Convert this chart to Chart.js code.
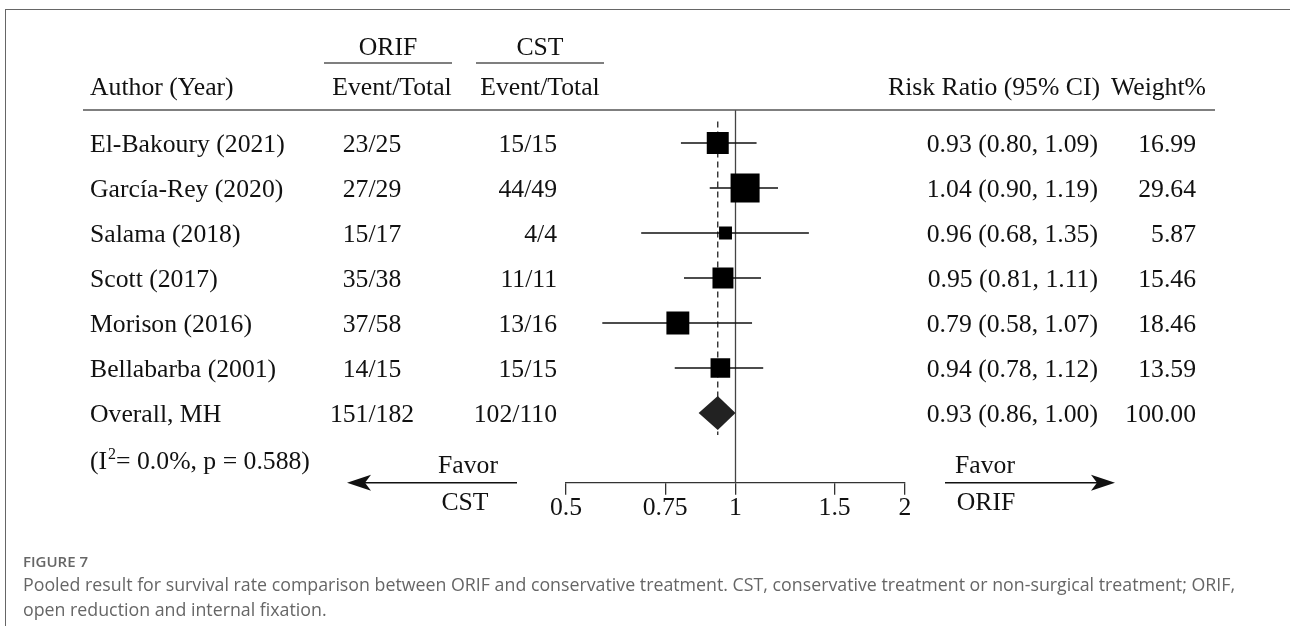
<!DOCTYPE html>
<html>
<head>
<meta charset="utf-8">
<script src="https://cdn.jsdelivr.net/npm/chart.js@4.4.1/dist/chart.umd.min.js"></script>
<style>
  html, body { margin: 0; padding: 0; background: #fff; width: 1290px; height: 626px; overflow: hidden; }
  #wrap { position: relative; width: 1290px; height: 626px; }
  #frame { position: absolute; left: 5px; top: 9px; right: -2px; bottom: -2px;
           border-top: 1.5px solid #666; border-left: 1.5px solid #666; }
  canvas { position: absolute; left: 0; top: 0; }
  .cap { position: absolute; left: 23px; font-family: "Open Sans", "Noto Sans", sans-serif;
         color: #666; white-space: nowrap; }
  #figno { top: 551px; font-size: 15px; line-height: 20px; font-weight: 600; }
  #cap1 { top: 572px; font-size: 17.8px; line-height: 24px; }
  #cap2 { top: 597px; font-size: 17.8px; line-height: 24px; }
</style>
</head>
<body>
<div id="wrap">
  <div id="frame"></div>
  <canvas id="forest" width="1290" height="626"></canvas>
  <div class="cap" id="figno">FIGURE 7</div>
  <div class="cap" id="cap1">Pooled result for survival rate comparison between ORIF and conservative treatment. CST, conservative treatment or non-surgical treatment; ORIF,</div>
  <div class="cap" id="cap2">open reduction and internal fixation.</div>
</div>
<script>
// Study-level data
const studies     = ["El-Bakoury (2021)", "García-Rey (2020)", "Salama (2018)", "Scott (2017)", "Morison (2016)", "Bellabarba (2001)"];
const orifEvents  = [23, 27, 15, 35, 37, 14];
const orifTotals  = [25, 29, 17, 38, 58, 15];
const cstEvents   = [15, 44, 4, 11, 13, 15];
const cstTotals   = [15, 49, 4, 11, 16, 15];
const riskRatio   = [0.93, 1.04, 0.96, 0.95, 0.79, 0.94];
const ciLower     = [0.80, 0.90, 0.68, 0.81, 0.58, 0.78];
const ciUpper     = [1.09, 1.19, 1.35, 1.11, 1.07, 1.12];
const weights     = [16.99, 29.64, 5.87, 15.46, 18.46, 13.59];

// Pooled (Mantel-Haenszel) result
const overallLabel  = "Overall, MH";
const overallOrif   = [151, 182];
const overallCst    = [102, 110];
const overallRR     = [0.93, 0.86, 1.00];   // estimate, lower, upper
const overallWeight = 100.00;
const heterogeneity = [0.0, 0.588];         // I², p

// Axis
const xTicks      = [0.5, 0.75, 1, 1.5, 2];
const xTickLabels = ["0.5", "0.75", "1", "1.5", "2"];

const SERIF = '"Liberation Serif", "Times New Roman", Times, serif';
const FONT_SIZE = 25.7;
const INK = '#111';
const fmt2 = v => v.toFixed(2);
const squareSide = w => 5.33 * Math.sqrt(w);

const forestPlugin = {
  id: 'forest',
  beforeDatasetsDraw(chart) {
    const { ctx, chartArea, scales: { x, y } } = chart;
    ctx.save();
    // line of no effect
    ctx.strokeStyle = '#444';
    ctx.lineWidth = 1.3;
    ctx.beginPath();
    ctx.moveTo(x.getPixelForValue(1), 110);
    ctx.lineTo(x.getPixelForValue(1), chartArea.bottom);
    ctx.stroke();
    // pooled estimate reference
    const px = x.getPixelForValue(overallRR[0]);
    ctx.strokeStyle = '#222';
    ctx.setLineDash([6, 4]);
    ctx.beginPath();
    ctx.moveTo(px, chartArea.top + 1);
    ctx.lineTo(px, y.getPixelForValue(studies.length) + 22);
    ctx.stroke();
    ctx.setLineDash([]);
    // confidence intervals
    ctx.strokeStyle = INK;
    ctx.lineWidth = 1.4;
    studies.forEach((s, i) => {
      const py = y.getPixelForValue(i);
      ctx.beginPath();
      ctx.moveTo(x.getPixelForValue(ciLower[i]), py);
      ctx.lineTo(x.getPixelForValue(ciUpper[i]), py);
      ctx.stroke();
    });
    ctx.restore();
  },
  afterDatasetsDraw(chart) {
    const { ctx, scales: { x, y } } = chart;
    const py = y.getPixelForValue(studies.length);
    const h = 17;
    ctx.save();
    ctx.fillStyle = '#222';
    ctx.beginPath();
    ctx.moveTo(x.getPixelForValue(overallRR[1]), py);
    ctx.lineTo(x.getPixelForValue(overallRR[0]), py - h);
    ctx.lineTo(x.getPixelForValue(overallRR[2]), py);
    ctx.lineTo(x.getPixelForValue(overallRR[0]), py + h);
    ctx.closePath();
    ctx.fill();
    ctx.restore();
  },
  afterDraw(chart) {
    const { ctx, scales: { x, y } } = chart;
    const cap = 8.5; // half cap-height offset to baseline
    ctx.save();
    ctx.fillStyle = INK;
    ctx.textBaseline = 'alphabetic';
    const font = FONT_SIZE + 'px ' + SERIF;
    const text = (t, tx, ty, align) => { ctx.textAlign = align; ctx.fillText(t, tx, ty); };
    ctx.font = font;

    // header
    text('ORIF', 388, 55, 'center');
    text('CST', 540, 55, 'center');
    text('Author (Year)', 90, 95, 'left');
    text('Event/Total', 392, 95, 'center');
    text('Event/Total', 540, 95, 'center');
    text('Risk Ratio (95% CI)', 1100, 95, 'right');
    text('Weight%', 1206, 95, 'right');

    ctx.strokeStyle = '#555';
    ctx.lineWidth = 1.5;
    ctx.beginPath();
    ctx.moveTo(324, 63); ctx.lineTo(452, 63);
    ctx.moveTo(476, 63); ctx.lineTo(604, 63);
    ctx.moveTo(83, 110); ctx.lineTo(1215, 110);
    ctx.stroke();

    // study rows
    studies.forEach((s, i) => {
      const by = y.getPixelForValue(i) + cap;
      text(s, 90, by, 'left');
      text(orifEvents[i] + '/' + orifTotals[i], 372, by, 'center');
      text(cstEvents[i] + '/' + cstTotals[i], 557, by, 'right');
      text(fmt2(riskRatio[i]) + ' (' + fmt2(ciLower[i]) + ', ' + fmt2(ciUpper[i]) + ')', 1098, by, 'right');
      text(fmt2(weights[i]), 1196, by, 'right');
    });

    // pooled row
    const oy = y.getPixelForValue(studies.length) + cap;
    text(overallLabel, 90, oy, 'left');
    text(overallOrif.join('/'), 372, oy, 'center');
    text(overallCst.join('/'), 557, oy, 'right');
    text(fmt2(overallRR[0]) + ' (' + fmt2(overallRR[1]) + ', ' + fmt2(overallRR[2]) + ')', 1098, oy, 'right');
    text(fmt2(overallWeight), 1196, oy, 'right');

    // heterogeneity line with superscript
    const hy = y.getPixelForValue(studies.length + 1) + cap + 2;
    ctx.textAlign = 'left';
    let hx = 90;
    ctx.fillText('(I', hx, hy); hx += ctx.measureText('(I').width + 1;
    ctx.font = '16px ' + SERIF;
    ctx.fillText('2', hx, hy - 10); hx += ctx.measureText('2').width;
    ctx.font = font;
    ctx.fillText('= ' + heterogeneity[0].toFixed(1) + '%, p = ' + heterogeneity[1].toFixed(3) + ')', hx, hy);

    // direction arrows
    const ay = x.top;
    ctx.strokeStyle = INK;
    ctx.fillStyle = INK;
    ctx.lineWidth = 1.4;
    ctx.beginPath();
    ctx.moveTo(360, ay); ctx.lineTo(517, ay);
    ctx.moveTo(945, ay); ctx.lineTo(1102, ay);
    ctx.stroke();
    ctx.beginPath();
    ctx.moveTo(347, ay); ctx.lineTo(371, ay - 8); ctx.lineTo(365, ay); ctx.lineTo(371, ay + 8); ctx.closePath();
    ctx.moveTo(1115, ay); ctx.lineTo(1091, ay - 8); ctx.lineTo(1097, ay); ctx.lineTo(1091, ay + 8); ctx.closePath();
    ctx.fill();
    text('Favor', 468, 473, 'center');
    text('CST', 465, 510, 'center');
    text('Favor', 985, 473, 'center');
    text('ORIF', 986, 510, 'center');
    ctx.restore();
  }
};

new Chart(document.getElementById('forest'), {
  type: 'scatter',
  data: {
    datasets: [{
      data: riskRatio.map((v, i) => ({ x: v, y: i })),
      pointStyle: 'rect',
      pointRadius: weights.map(w => squareSide(w) / Math.SQRT2),
      pointHoverRadius: weights.map(w => squareSide(w) / Math.SQRT2),
      backgroundColor: '#000',
      borderColor: '#000',
      borderWidth: 0
    }]
  },
  options: {
    responsive: false,
    animation: false,
    devicePixelRatio: 1,
    events: [],
    layout: { padding: { left: 566, right: 385, top: 120.5, bottom: 103.5 } },
    plugins: { legend: { display: false }, tooltip: { enabled: false } },
    scales: {
      x: {
        type: 'logarithmic',
        min: 0.5,
        max: 2,
        afterBuildTicks: s => { s.ticks = xTicks.map(v => ({ value: v })); },
        ticks: {
          callback: (v, i) => xTickLabels[i],
          font: { family: SERIF, size: FONT_SIZE, lineHeight: 1 },
          color: INK,
          padding: 1,
          autoSkip: false,
          maxRotation: 0,
          minRotation: 0
        },
        grid: { drawOnChartArea: false, drawTicks: true, tickLength: 12, color: '#333', lineWidth: 1.3 },
        border: { display: true, color: '#333', width: 1.3 }
      },
      y: { type: 'linear', min: -0.5, max: 7.55, reverse: true, display: false }
    }
  },
  plugins: [forestPlugin]
});
</script>
</body>
</html>
